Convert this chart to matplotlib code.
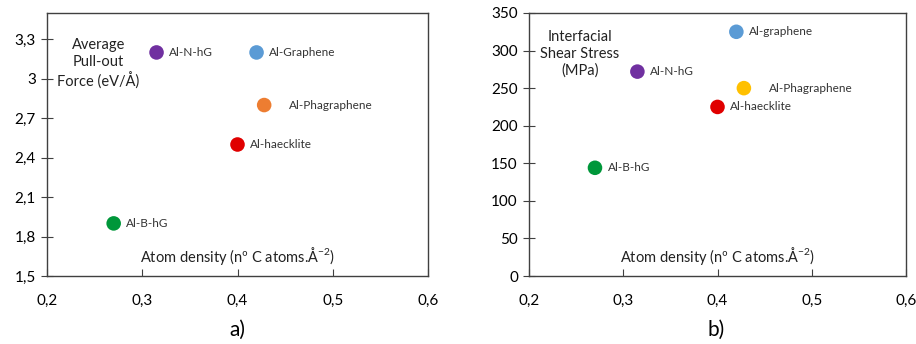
import matplotlib
matplotlib.use("Agg")
import matplotlib.pyplot as plt
import numpy as np
from matplotlib.ticker import FuncFormatter

plt.rcParams["font.family"] = ["Lato", "DejaVu Sans"]
plt.rcParams["mathtext.fontset"] = "custom"
plt.rcParams["mathtext.rm"] = "Lato"

# panel a: average pull-out force
names_a = ["Al-N-hG", "Al-Graphene", "Al-Phagraphene", "Al-haecklite", "Al-B-hG"]
density_a = [0.315, 0.42, 0.428, 0.40, 0.27]
force = [3.2, 3.2, 2.8, 2.5, 1.9]
colors_a = ["#7030a0", "#5b9bd5", "#ed7d31", "#e00000", "#00973a"]

# panel b: interfacial shear stress
names_b = ["Al-graphene", "Al-N-hG", "Al-Phagraphene", "Al-haecklite", "Al-B-hG"]
density_b = [0.42, 0.315, 0.428, 0.40, 0.27]
stress = [325, 272, 250, 225, 144]
colors_b = ["#5b9bd5", "#7030a0", "#ffc000", "#e00000", "#00973a"]

x_ticks = [0.2, 0.3, 0.4, 0.5, 0.6]
y_ticks_a = [1.5, 1.8, 2.1, 2.4, 2.7, 3.0, 3.3]
y_ticks_b = [0, 50, 100, 150, 200, 250, 300, 350]

XLABEL = r"Atom density (nº C atoms.Å$^{\mathrm{-2}}$)"


def comma(v, _pos=None):
    return f"{round(v, 2):g}".replace(".", ",")


def style(ax, ylim, yticks):
    ax.set_xlim(0.2, 0.6)
    ax.set_ylim(*ylim)
    ax.set_xticks(x_ticks)
    ax.set_yticks(yticks)
    ax.xaxis.set_major_formatter(FuncFormatter(comma))
    ax.yaxis.set_major_formatter(FuncFormatter(comma))
    ax.tick_params(axis="x", direction="in", length=5, pad=13, labelsize=11, color="#404040")
    ax.tick_params(axis="y", direction="inout", length=8, pad=4, labelsize=11, color="#404040")
    for s in ax.spines.values():
        s.set_color("#404040")
        s.set_linewidth(1.0)
    ax.text(0.5, 0.035, XLABEL, transform=ax.transAxes, ha="center", va="bottom",
            fontsize=10.5, color="#222222")


def points(ax, xs, ys, names, colors):
    ax.scatter(xs, ys, s=110, c=colors, zorder=3, linewidths=0)
    for x, y, n in zip(xs, ys, names):
        dx = 18 if "Phag" in n else 9
        ax.annotate(n, (x, y), xytext=(dx, 0), textcoords="offset points",
                    va="center", ha="left", fontsize=8.5, color="#333333")


fig = plt.figure(figsize=(9.16, 3.44), dpi=100)
ax1 = fig.add_axes([47 / 916, 1 - 276 / 344, 381 / 916, 263 / 344])
ax2 = fig.add_axes([529 / 916, 1 - 276 / 344, 377 / 916, 263 / 344])

style(ax1, (1.5, 3.5), y_ticks_a)
points(ax1, density_a, force, names_a, colors_a)
ax1.text(0.135, 0.905, "Average\nPull-out\nForce (eV/Å)", transform=ax1.transAxes,
         ha="center", va="top", fontsize=10.5, color="#222222", linespacing=1.25)

style(ax2, (0, 350), y_ticks_b)
points(ax2, density_b, stress, names_b, colors_b)
ax2.text(0.135, 0.935, "Interfacial\nShear Stress\n(MPa)", transform=ax2.transAxes,
         ha="center", va="top", fontsize=10.5, color="#222222", linespacing=1.25)

fig.text(237 / 916, 1 - 330 / 344, "a)", ha="center", va="center", fontsize=15)
fig.text(716 / 916, 1 - 330 / 344, "b)", ha="center", va="center", fontsize=15)

fig.savefig("out.png", dpi=100, facecolor="white")
